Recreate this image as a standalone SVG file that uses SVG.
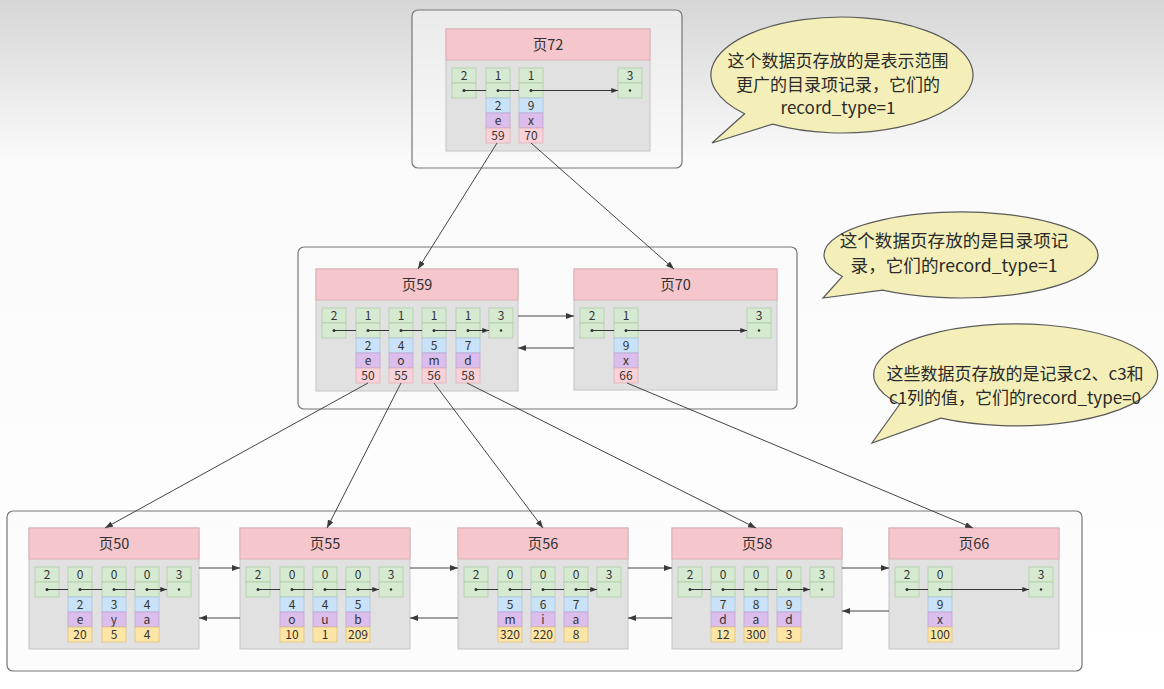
<svg xmlns="http://www.w3.org/2000/svg" width="1164" height="689" viewBox="0 0 1164 689">
<defs>
<linearGradient id="bg" x1="0" y1="0" x2="0" y2="1">
<stop offset="0" stop-color="#d6d6d6"/>
<stop offset="0.23" stop-color="#fafafa"/>
<stop offset="1" stop-color="#ffffff"/>
</linearGradient>
<marker id="ah" viewBox="0 0 8 6" refX="8" refY="3" markerWidth="7" markerHeight="5" markerUnits="userSpaceOnUse" orient="auto">
<path d="M0,0 L8,3 L0,6 Z" fill="#333"/>
</marker>
<marker id="ac" viewBox="0 0 8 6" refX="8" refY="3" markerWidth="8" markerHeight="6" markerUnits="userSpaceOnUse" orient="auto">
<path d="M0,0 L8,3 L0,6 Z" fill="#3a3a3a"/>
</marker>
<style>
text{font-family:"Noto Sans CJK SC","Noto Sans",sans-serif;fill:#333;text-anchor:middle}
.box{fill:#fafafa;fill-opacity:0.55;stroke:#767676;stroke-width:1.2}
.body{fill:#e1e1e1;stroke:#c4c4c4;stroke-width:1}
.hdr{fill:#f5c6cb;stroke:#deb0b5;stroke-width:1}
.g{fill:#d6ead1;stroke:#b0cca9;stroke-width:0.8}
.b{fill:#c9e2f8;stroke:#adc6dc;stroke-width:0.8}
.p{fill:#dbbeec;stroke:#c2a4d2;stroke-width:0.8}
.r{fill:#f8d2d8;stroke:#dfb2b8;stroke-width:0.8}
.y{fill:#fde5a6;stroke:#dcc482;stroke-width:0.8}
.t{font-size:12px}
.tt{font-size:14.5px}
.d{fill:#333}
.pl{stroke:#333;stroke-width:1;fill:none;marker-end:url(#ah)}
.cn{stroke:#444;stroke-width:1;fill:none;marker-end:url(#ac)}
.bub{fill:#f4efb8;stroke:#5a5a5a;stroke-width:1.2}
.bt{font-size:17.6px;fill:#2a2a2a}
.bs{font-size:17px;fill:#2a2a2a}
</style>
</defs>
<rect x="0" y="0" width="1164" height="689" fill="url(#bg)"/>

<!-- containers -->
<rect class="box" x="412" y="10" width="270" height="158" rx="6"/>
<rect class="box" x="298" y="247" width="499" height="162" rx="6"/>
<rect class="box" x="7" y="511" width="1075" height="160" rx="6"/>

<!-- Page 72 -->
<g id="page72">
<rect class="body" x="446" y="29" width="204" height="122"/>
<rect class="hdr" x="446" y="29" width="204" height="31"/>
<text class="tt" x="548" y="50">页72</text>
<rect class="g" x="452" y="68" width="24" height="15"/><rect class="g" x="452" y="83" width="24" height="15"/><text class="t" x="464" y="80">2</text><circle class="d" cx="464" cy="90.5" r="1.5"/>
<rect class="g" x="486" y="68" width="24" height="15"/><rect class="g" x="486" y="83" width="24" height="15"/><text class="t" x="498" y="80">1</text><circle class="d" cx="498" cy="90.5" r="1.5"/>
<rect class="b" x="486" y="98" width="24" height="15"/><text class="t" x="498" y="110">2</text>
<rect class="p" x="486" y="113" width="24" height="15"/><text class="t" x="498" y="125">e</text>
<rect class="r" x="486" y="128" width="24" height="15"/><text class="t" x="498" y="140">59</text>
<rect class="g" x="519" y="68" width="24" height="15"/><rect class="g" x="519" y="83" width="24" height="15"/><text class="t" x="531" y="80">1</text><circle class="d" cx="531" cy="90.5" r="1.5"/>
<rect class="b" x="519" y="98" width="24" height="15"/><text class="t" x="531" y="110">9</text>
<rect class="p" x="519" y="113" width="24" height="15"/><text class="t" x="531" y="125">x</text>
<rect class="r" x="519" y="128" width="24" height="15"/><text class="t" x="531" y="140">70</text>
<rect class="g" x="618" y="68" width="24" height="15"/><rect class="g" x="618" y="83" width="24" height="15"/><text class="t" x="630" y="80">3</text><circle class="d" cx="630" cy="90.5" r="1.2"/>
<path class="pl" d="M464,90.5 H486 M498,90.5 H519 M531,90.5 H618"/>
</g>

<!-- Page 59 -->
<g id="page59">
<rect class="body" x="316" y="269" width="202" height="122"/>
<rect class="hdr" x="316" y="269" width="202" height="31"/>
<text class="tt" x="417" y="290">页59</text>
<rect class="g" x="322" y="308" width="24" height="15"/><rect class="g" x="322" y="323" width="24" height="15"/><text class="t" x="334" y="320">2</text><circle class="d" cx="334" cy="330.5" r="1.5"/>
<rect class="g" x="356" y="308" width="24" height="15"/><rect class="g" x="356" y="323" width="24" height="15"/><text class="t" x="368" y="320">1</text><circle class="d" cx="368" cy="330.5" r="1.5"/>
<rect class="b" x="356" y="338" width="24" height="15"/><text class="t" x="368" y="350">2</text>
<rect class="p" x="356" y="353" width="24" height="15"/><text class="t" x="368" y="365">e</text>
<rect class="r" x="356" y="368" width="24" height="15"/><text class="t" x="368" y="380">50</text>
<rect class="g" x="389" y="308" width="24" height="15"/><rect class="g" x="389" y="323" width="24" height="15"/><text class="t" x="401" y="320">1</text><circle class="d" cx="401" cy="330.5" r="1.5"/>
<rect class="b" x="389" y="338" width="24" height="15"/><text class="t" x="401" y="350">4</text>
<rect class="p" x="389" y="353" width="24" height="15"/><text class="t" x="401" y="365">o</text>
<rect class="r" x="389" y="368" width="24" height="15"/><text class="t" x="401" y="380">55</text>
<rect class="g" x="422" y="308" width="24" height="15"/><rect class="g" x="422" y="323" width="24" height="15"/><text class="t" x="434" y="320">1</text><circle class="d" cx="434" cy="330.5" r="1.5"/>
<rect class="b" x="422" y="338" width="24" height="15"/><text class="t" x="434" y="350">5</text>
<rect class="p" x="422" y="353" width="24" height="15"/><text class="t" x="434" y="365">m</text>
<rect class="r" x="422" y="368" width="24" height="15"/><text class="t" x="434" y="380">56</text>
<rect class="g" x="456" y="308" width="24" height="15"/><rect class="g" x="456" y="323" width="24" height="15"/><text class="t" x="468" y="320">1</text><circle class="d" cx="468" cy="330.5" r="1.5"/>
<rect class="b" x="456" y="338" width="24" height="15"/><text class="t" x="468" y="350">7</text>
<rect class="p" x="456" y="353" width="24" height="15"/><text class="t" x="468" y="365">d</text>
<rect class="r" x="456" y="368" width="24" height="15"/><text class="t" x="468" y="380">58</text>
<rect class="g" x="489" y="308" width="24" height="15"/><rect class="g" x="489" y="323" width="24" height="15"/><text class="t" x="501" y="320">3</text><circle class="d" cx="501" cy="330.5" r="1.2"/>
<path class="pl" d="M334,330.5 H356 M368,330.5 H389 M401,330.5 H422 M434,330.5 H456 M468,330.5 H489"/>
</g>

<!-- Page 70 -->
<g id="page70">
<rect class="body" x="574" y="269" width="203" height="121"/>
<rect class="hdr" x="574" y="269" width="203" height="31"/>
<text class="tt" x="675.5" y="290">页70</text>
<rect class="g" x="580" y="308" width="24" height="15"/><rect class="g" x="580" y="323" width="24" height="15"/><text class="t" x="592" y="320">2</text><circle class="d" cx="592" cy="330.5" r="1.5"/>
<rect class="g" x="614" y="308" width="24" height="15"/><rect class="g" x="614" y="323" width="24" height="15"/><text class="t" x="626" y="320">1</text><circle class="d" cx="626" cy="330.5" r="1.5"/>
<rect class="b" x="614" y="338" width="24" height="15"/><text class="t" x="626" y="350">9</text>
<rect class="p" x="614" y="353" width="24" height="15"/><text class="t" x="626" y="365">x</text>
<rect class="r" x="614" y="368" width="24" height="15"/><text class="t" x="626" y="380">66</text>
<rect class="g" x="747" y="308" width="24" height="15"/><rect class="g" x="747" y="323" width="24" height="15"/><text class="t" x="759" y="320">3</text><circle class="d" cx="759" cy="330.5" r="1.2"/>
<path class="pl" d="M592,330.5 H614 M626,330.5 H747"/>
</g>

<!-- Page 50 -->
<g id="page50">
<rect class="body" x="29" y="528" width="170" height="121"/>
<rect class="hdr" x="29" y="528" width="170" height="31"/>
<text class="tt" x="114" y="549">页50</text>
<rect class="g" x="35" y="567" width="24" height="15"/><rect class="g" x="35" y="582" width="24" height="15"/><text class="t" x="47" y="579">2</text><circle class="d" cx="47" cy="589.5" r="1.5"/>
<rect class="g" x="68" y="567" width="24" height="15"/><rect class="g" x="68" y="582" width="24" height="15"/><text class="t" x="80" y="579">0</text><circle class="d" cx="80" cy="589.5" r="1.5"/>
<rect class="b" x="68" y="597" width="24" height="15"/><text class="t" x="80" y="609">2</text>
<rect class="p" x="68" y="612" width="24" height="15"/><text class="t" x="80" y="624">e</text>
<rect class="y" x="68" y="627" width="24" height="15"/><text class="t" x="80" y="639">20</text>
<rect class="g" x="102" y="567" width="24" height="15"/><rect class="g" x="102" y="582" width="24" height="15"/><text class="t" x="114" y="579">0</text><circle class="d" cx="114" cy="589.5" r="1.5"/>
<rect class="b" x="102" y="597" width="24" height="15"/><text class="t" x="114" y="609">3</text>
<rect class="p" x="102" y="612" width="24" height="15"/><text class="t" x="114" y="624">y</text>
<rect class="y" x="102" y="627" width="24" height="15"/><text class="t" x="114" y="639">5</text>
<rect class="g" x="135" y="567" width="24" height="15"/><rect class="g" x="135" y="582" width="24" height="15"/><text class="t" x="147" y="579">0</text><circle class="d" cx="147" cy="589.5" r="1.5"/>
<rect class="b" x="135" y="597" width="24" height="15"/><text class="t" x="147" y="609">4</text>
<rect class="p" x="135" y="612" width="24" height="15"/><text class="t" x="147" y="624">a</text>
<rect class="y" x="135" y="627" width="24" height="15"/><text class="t" x="147" y="639">4</text>
<rect class="g" x="167" y="567" width="24" height="15"/><rect class="g" x="167" y="582" width="24" height="15"/><text class="t" x="179" y="579">3</text><circle class="d" cx="179" cy="589.5" r="1.2"/>
<path class="pl" d="M47,589.5 H68 M80,589.5 H102 M114,589.5 H135 M147,589.5 H167"/>
</g>

<!-- Page 55 -->
<g id="page55">
<rect class="body" x="240" y="528" width="170" height="121"/>
<rect class="hdr" x="240" y="528" width="170" height="31"/>
<text class="tt" x="325" y="549">页55</text>
<rect class="g" x="246" y="567" width="24" height="15"/><rect class="g" x="246" y="582" width="24" height="15"/><text class="t" x="258" y="579">2</text><circle class="d" cx="258" cy="589.5" r="1.5"/>
<rect class="g" x="280" y="567" width="24" height="15"/><rect class="g" x="280" y="582" width="24" height="15"/><text class="t" x="292" y="579">0</text><circle class="d" cx="292" cy="589.5" r="1.5"/>
<rect class="b" x="280" y="597" width="24" height="15"/><text class="t" x="292" y="609">4</text>
<rect class="p" x="280" y="612" width="24" height="15"/><text class="t" x="292" y="624">o</text>
<rect class="y" x="280" y="627" width="24" height="15"/><text class="t" x="292" y="639">10</text>
<rect class="g" x="313" y="567" width="24" height="15"/><rect class="g" x="313" y="582" width="24" height="15"/><text class="t" x="325" y="579">0</text><circle class="d" cx="325" cy="589.5" r="1.5"/>
<rect class="b" x="313" y="597" width="24" height="15"/><text class="t" x="325" y="609">4</text>
<rect class="p" x="313" y="612" width="24" height="15"/><text class="t" x="325" y="624">u</text>
<rect class="y" x="313" y="627" width="24" height="15"/><text class="t" x="325" y="639">1</text>
<rect class="g" x="346" y="567" width="24" height="15"/><rect class="g" x="346" y="582" width="24" height="15"/><text class="t" x="358" y="579">0</text><circle class="d" cx="358" cy="589.5" r="1.5"/>
<rect class="b" x="346" y="597" width="24" height="15"/><text class="t" x="358" y="609">5</text>
<rect class="p" x="346" y="612" width="24" height="15"/><text class="t" x="358" y="624">b</text>
<rect class="y" x="346" y="627" width="24" height="15"/><text class="t" x="358" y="639">209</text>
<rect class="g" x="379" y="567" width="24" height="15"/><rect class="g" x="379" y="582" width="24" height="15"/><text class="t" x="391" y="579">3</text><circle class="d" cx="391" cy="589.5" r="1.2"/>
<path class="pl" d="M258,589.5 H280 M292,589.5 H313 M325,589.5 H346 M358,589.5 H379"/>
</g>

<!-- Page 56 -->
<g id="page56">
<rect class="body" x="458" y="528" width="170" height="121"/>
<rect class="hdr" x="458" y="528" width="170" height="31"/>
<text class="tt" x="543" y="549">页56</text>
<rect class="g" x="464" y="567" width="24" height="15"/><rect class="g" x="464" y="582" width="24" height="15"/><text class="t" x="476" y="579">2</text><circle class="d" cx="476" cy="589.5" r="1.5"/>
<rect class="g" x="498" y="567" width="24" height="15"/><rect class="g" x="498" y="582" width="24" height="15"/><text class="t" x="510" y="579">0</text><circle class="d" cx="510" cy="589.5" r="1.5"/>
<rect class="b" x="498" y="597" width="24" height="15"/><text class="t" x="510" y="609">5</text>
<rect class="p" x="498" y="612" width="24" height="15"/><text class="t" x="510" y="624">m</text>
<rect class="y" x="498" y="627" width="24" height="15"/><text class="t" x="510" y="639">320</text>
<rect class="g" x="531" y="567" width="24" height="15"/><rect class="g" x="531" y="582" width="24" height="15"/><text class="t" x="543" y="579">0</text><circle class="d" cx="543" cy="589.5" r="1.5"/>
<rect class="b" x="531" y="597" width="24" height="15"/><text class="t" x="543" y="609">6</text>
<rect class="p" x="531" y="612" width="24" height="15"/><text class="t" x="543" y="624">i</text>
<rect class="y" x="531" y="627" width="24" height="15"/><text class="t" x="543" y="639">220</text>
<rect class="g" x="564" y="567" width="24" height="15"/><rect class="g" x="564" y="582" width="24" height="15"/><text class="t" x="576" y="579">0</text><circle class="d" cx="576" cy="589.5" r="1.5"/>
<rect class="b" x="564" y="597" width="24" height="15"/><text class="t" x="576" y="609">7</text>
<rect class="p" x="564" y="612" width="24" height="15"/><text class="t" x="576" y="624">a</text>
<rect class="y" x="564" y="627" width="24" height="15"/><text class="t" x="576" y="639">8</text>
<rect class="g" x="597" y="567" width="24" height="15"/><rect class="g" x="597" y="582" width="24" height="15"/><text class="t" x="609" y="579">3</text><circle class="d" cx="609" cy="589.5" r="1.2"/>
<path class="pl" d="M476,589.5 H498 M510,589.5 H531 M543,589.5 H564 M576,589.5 H597"/>
</g>

<!-- Page 58 -->
<g id="page58">
<rect class="body" x="672" y="528" width="170" height="121"/>
<rect class="hdr" x="672" y="528" width="170" height="31"/>
<text class="tt" x="757" y="549">页58</text>
<rect class="g" x="678" y="567" width="24" height="15"/><rect class="g" x="678" y="582" width="24" height="15"/><text class="t" x="690" y="579">2</text><circle class="d" cx="690" cy="589.5" r="1.5"/>
<rect class="g" x="711" y="567" width="24" height="15"/><rect class="g" x="711" y="582" width="24" height="15"/><text class="t" x="723" y="579">0</text><circle class="d" cx="723" cy="589.5" r="1.5"/>
<rect class="b" x="711" y="597" width="24" height="15"/><text class="t" x="723" y="609">7</text>
<rect class="p" x="711" y="612" width="24" height="15"/><text class="t" x="723" y="624">d</text>
<rect class="y" x="711" y="627" width="24" height="15"/><text class="t" x="723" y="639">12</text>
<rect class="g" x="744" y="567" width="24" height="15"/><rect class="g" x="744" y="582" width="24" height="15"/><text class="t" x="756" y="579">0</text><circle class="d" cx="756" cy="589.5" r="1.5"/>
<rect class="b" x="744" y="597" width="24" height="15"/><text class="t" x="756" y="609">8</text>
<rect class="p" x="744" y="612" width="24" height="15"/><text class="t" x="756" y="624">a</text>
<rect class="y" x="744" y="627" width="24" height="15"/><text class="t" x="756" y="639">300</text>
<rect class="g" x="777" y="567" width="24" height="15"/><rect class="g" x="777" y="582" width="24" height="15"/><text class="t" x="789" y="579">0</text><circle class="d" cx="789" cy="589.5" r="1.5"/>
<rect class="b" x="777" y="597" width="24" height="15"/><text class="t" x="789" y="609">9</text>
<rect class="p" x="777" y="612" width="24" height="15"/><text class="t" x="789" y="624">d</text>
<rect class="y" x="777" y="627" width="24" height="15"/><text class="t" x="789" y="639">3</text>
<rect class="g" x="810" y="567" width="24" height="15"/><rect class="g" x="810" y="582" width="24" height="15"/><text class="t" x="822" y="579">3</text><circle class="d" cx="822" cy="589.5" r="1.2"/>
<path class="pl" d="M690,589.5 H711 M723,589.5 H744 M756,589.5 H777 M789,589.5 H810"/>
</g>

<!-- Page 66 -->
<g id="page66">
<rect class="body" x="889" y="528" width="170" height="121"/>
<rect class="hdr" x="889" y="528" width="170" height="31"/>
<text class="tt" x="974" y="549">页66</text>
<rect class="g" x="895" y="567" width="24" height="15"/><rect class="g" x="895" y="582" width="24" height="15"/><text class="t" x="907" y="579">2</text><circle class="d" cx="907" cy="589.5" r="1.5"/>
<rect class="g" x="928" y="567" width="24" height="15"/><rect class="g" x="928" y="582" width="24" height="15"/><text class="t" x="940" y="579">0</text><circle class="d" cx="940" cy="589.5" r="1.5"/>
<rect class="b" x="928" y="597" width="24" height="15"/><text class="t" x="940" y="609">9</text>
<rect class="p" x="928" y="612" width="24" height="15"/><text class="t" x="940" y="624">x</text>
<rect class="y" x="928" y="627" width="24" height="15"/><text class="t" x="940" y="639">100</text>
<rect class="g" x="1029" y="567" width="24" height="15"/><rect class="g" x="1029" y="582" width="24" height="15"/><text class="t" x="1041" y="579">3</text><circle class="d" cx="1041" cy="589.5" r="1.2"/>
<path class="pl" d="M907,589.5 H928 M940,589.5 H1029"/>
</g>

<!-- connectors -->
<g id="connectors">
<line class="cn" x1="497" y1="143" x2="418" y2="269"/>
<line class="cn" x1="531" y1="143" x2="674" y2="269"/>
<line class="cn" x1="368" y1="383" x2="105" y2="528"/>
<line class="cn" x1="401" y1="383" x2="327" y2="528"/>
<line class="cn" x1="434" y1="383" x2="543" y2="528"/>
<line class="cn" x1="467" y1="383" x2="756" y2="528"/>
<line class="cn" x1="627" y1="383" x2="973" y2="528"/>
<line class="cn" x1="518" y1="316" x2="574" y2="316"/>
<line class="cn" x1="574" y1="348" x2="518" y2="348"/>
<line class="cn" x1="199" y1="568" x2="240" y2="568"/>
<line class="cn" x1="240" y1="618" x2="199" y2="618"/>
<line class="cn" x1="410" y1="568" x2="458" y2="568"/>
<line class="cn" x1="458" y1="618" x2="410" y2="618"/>
<line class="cn" x1="628" y1="568" x2="672" y2="568"/>
<line class="cn" x1="672" y1="618" x2="628" y2="618"/>
<line class="cn" x1="842" y1="568" x2="889" y2="568"/>
<line class="cn" x1="889" y1="611" x2="842" y2="611"/>
</g>

<!-- callouts -->
<g id="callout1">
<path class="bub" d="M744.6,113.8 A131,58 0 1 1 772.6,124.2 L712,143 Z"/>
<text class="bs" x="838" y="67">这个数据页存放的是表示范围<tspan x="838" dy="23.5">更广的目录项记录，它们的</tspan><tspan x="838" dy="23.5">record_type=1</tspan></text>
</g>
<g id="callout2">
<path class="bub" d="M842.4,276.5 A137,43 0 1 1 882.4,290.2 L823,298 Z"/>
<text class="bt" x="954" y="247">这个数据页存放的是目录项记<tspan x="954" dy="25">录，它们的record_type=1</tspan></text>
</g>
<g id="callout3">
<path class="bub" d="M899.7,404.3 A142,51 0 1 1 940.8,418.2 L872,443 Z"/>
<text class="bs" x="1015" y="380">这些数据页存放的是记录c2、c3和<tspan x="1015" dy="23.5">c1列的值，它们的record_type=0</tspan></text>
</g>
</svg>
